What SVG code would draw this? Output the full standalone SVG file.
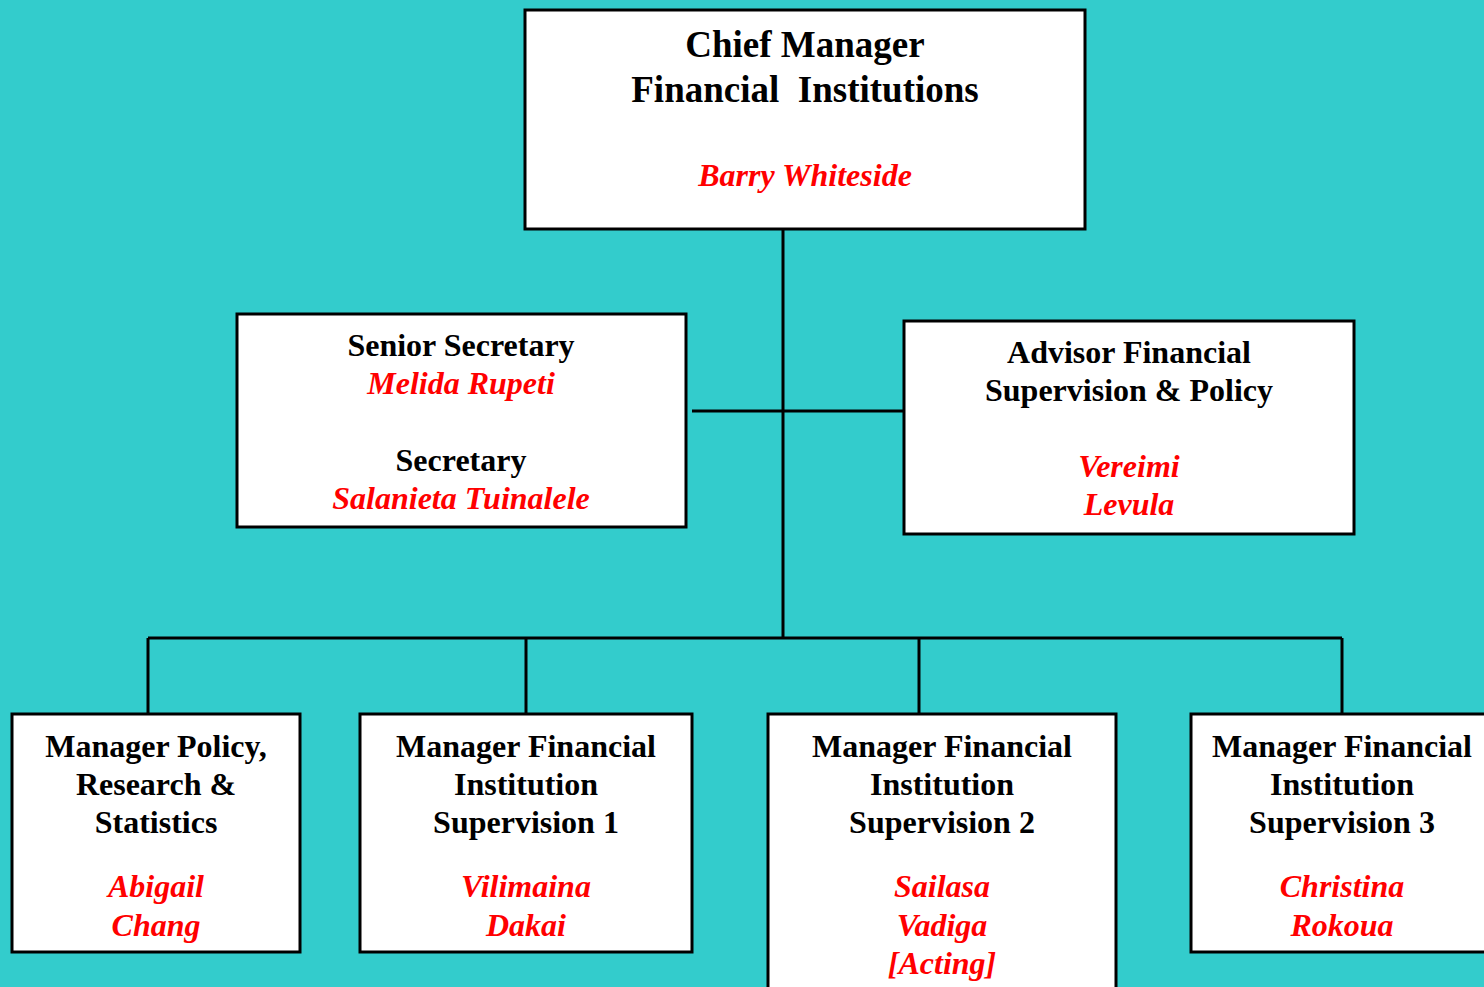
<svg xmlns="http://www.w3.org/2000/svg" width="1484" height="987" viewBox="0 0 1484 987">
<style>
.box{fill:#FFFFFF;stroke:#000000;stroke-width:3}
.ln{stroke:#000000;stroke-width:3;fill:none}
text{font-family:"Liberation Serif","Times New Roman",serif;font-weight:bold;text-anchor:middle;font-size:32px}
.t{fill:#000000}
.n{fill:#FF0000;font-style:italic}
.big{font-size:37px}
</style>
<rect x="0" y="0" width="1484" height="987" fill="#33CCCC"/>
<g id="connectors">
<line class="ln" x1="783" y1="229" x2="783" y2="639"/>
<line class="ln" x1="692" y1="411" x2="911" y2="411"/>
<line class="ln" x1="148" y1="638" x2="1342" y2="638"/>
<line class="ln" x1="148" y1="638" x2="148" y2="714"/>
<line class="ln" x1="526" y1="638" x2="526" y2="714"/>
<line class="ln" x1="919" y1="638" x2="919" y2="714"/>
<line class="ln" x1="1342" y1="638" x2="1342" y2="714"/>
</g>
<g id="chief">
<rect class="box" x="525" y="10" width="560" height="219"/>
<text class="t big" x="805" y="57">Chief Manager</text>
<text class="t big" x="805" y="102" xml:space="preserve">Financial  Institutions</text>
<text class="n" x="805" y="186">Barry Whiteside</text>
</g>
<g id="secretary">
<rect class="box" x="237" y="314" width="449" height="213"/>
<text class="t" x="461" y="356">Senior Secretary</text>
<text class="n" x="461" y="394">Melida Rupeti</text>
<text class="t" x="461" y="471">Secretary</text>
<text class="n" x="461" y="509">Salanieta Tuinalele</text>
</g>
<g id="advisor">
<rect class="box" x="904" y="321" width="450" height="213"/>
<text class="t" x="1129" y="363">Advisor Financial</text>
<text class="t" x="1129" y="401">Supervision &amp; Policy</text>
<text class="n" x="1129" y="477">Vereimi</text>
<text class="n" x="1129" y="515">Levula</text>
</g>
<g id="policy">
<rect class="box" x="12" y="714" width="288" height="238"/>
<text class="t" x="156" y="757">Manager Policy,</text>
<text class="t" x="156" y="795">Research &amp;</text>
<text class="t" x="156" y="833">Statistics</text>
<text class="n" x="156" y="897">Abigail</text>
<text class="n" x="156" y="936">Chang</text>
</g>
<g id="fis1">
<rect class="box" x="360" y="714" width="332" height="238"/>
<text class="t" x="526" y="757">Manager Financial</text>
<text class="t" x="526" y="795">Institution</text>
<text class="t" x="526" y="833">Supervision 1</text>
<text class="n" x="526" y="897">Vilimaina</text>
<text class="n" x="526" y="936">Dakai</text>
</g>
<g id="fis2">
<rect class="box" x="768" y="714" width="348" height="290"/>
<text class="t" x="942" y="757">Manager Financial</text>
<text class="t" x="942" y="795">Institution</text>
<text class="t" x="942" y="833">Supervision 2</text>
<text class="n" x="942" y="897">Sailasa</text>
<text class="n" x="942" y="936">Vadiga</text>
<text class="n" x="942" y="974">[Acting]</text>
</g>
<g id="fis3">
<rect class="box" x="1191" y="714" width="310" height="238"/>
<text class="t" x="1342" y="757">Manager Financial</text>
<text class="t" x="1342" y="795">Institution</text>
<text class="t" x="1342" y="833">Supervision 3</text>
<text class="n" x="1342" y="897">Christina</text>
<text class="n" x="1342" y="936">Rokoua</text>
</g>
</svg>
